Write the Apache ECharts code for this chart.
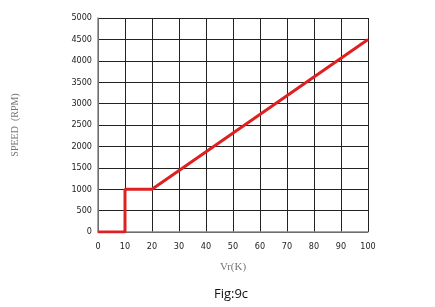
<!DOCTYPE html>
<html>
<head>
<meta charset="utf-8">
<script src="https://cdn.jsdelivr.net/npm/echarts@6/dist/echarts.min.js"></script>
<style>
  html, body { margin: 0; padding: 0; background: #fff; }
  #main { width: 435px; height: 307px; }
</style>
</head>
<body>
<div id="main"></div>
<script>
// curve points: Vr (K) vs speed (RPM)
var vrValues = [0, 10, 10, 20, 100];
var speedValues = [0, 0, 1000, 1000, 4500];
var xTicks = [0, 10, 20, 30, 40, 50, 60, 70, 80, 90, 100];
var yTicks = [0, 500, 1000, 1500, 2000, 2500, 3000, 3500, 4000, 4500, 5000];

var chart = echarts.init(document.getElementById("main"));

var tickFont = { fontFamily: "DejaVu Sans Condensed", fontSize: 9, color: "#222" };
var plain = function (v) { return String(v); };

var option = {
  animation: false,
  title: {
    text: "Fig:9c",
    left: 226,
    top: 283,
    textAlign: "center",
    textStyle: { fontFamily: "Open Sans", fontSize: 13, fontWeight: "normal", color: "#111" }
  },
  grid: { left: 98, right: 67, top: 18, bottom: 75 },
  xAxis: {
    type: "value",
    min: xTicks[0],
    max: xTicks[xTicks.length - 1],
    interval: 10,
    name: "Vr(K)",
    nameLocation: "middle",
    nameGap: 30,
    nameTextStyle: { fontFamily: "Liberation Serif", fontSize: 11, color: "#777" },
    axisLine: { lineStyle: { color: "#888", width: 1.5 } },
    axisTick: { show: false },
    axisLabel: Object.assign({ margin: 10, formatter: plain }, tickFont),
    splitLine: { lineStyle: { color: "#222", width: 1 } }
  },
  yAxis: {
    type: "value",
    min: yTicks[0],
    max: yTicks[yTicks.length - 1],
    interval: 500,
    name: "SPEED  (RPM)",
    nameLocation: "middle",
    nameGap: 78,
    nameRotate: 90,
    nameTextStyle: { fontFamily: "Liberation Serif", fontSize: 10, color: "#777" },
    axisLine: { show: true, lineStyle: { color: "#888", width: 1.5 } },
    axisTick: { show: false },
    axisLabel: Object.assign({ margin: 6, formatter: plain }, tickFont),
    splitLine: { lineStyle: { color: "#222", width: 1 } }
  },
  series: [{
    type: "line",
    data: vrValues.map(function (v, i) { return [v, speedValues[i]]; }),
    symbol: "none",
    lineStyle: { color: "#e02020", width: 3 }
  }]
};

chart.setOption(option);
</script>
</body>
</html>
